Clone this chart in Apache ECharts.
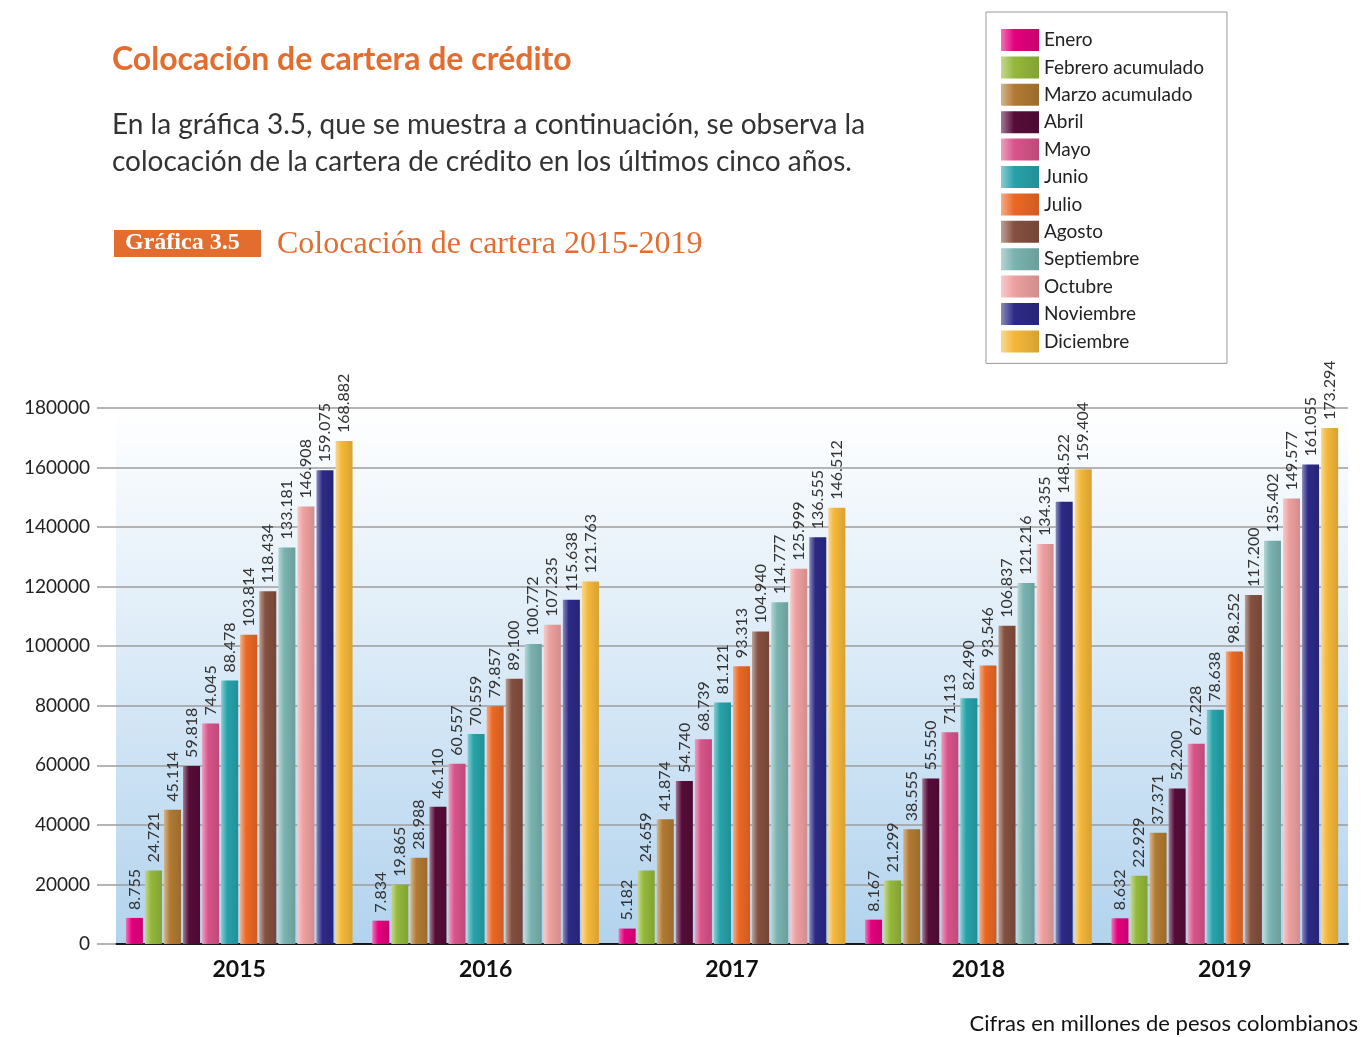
<!DOCTYPE html>
<html>
<head>
<meta charset="utf-8">
<script src="https://cdn.jsdelivr.net/npm/echarts@6/dist/echarts.min.js"></script>
<style>
html, body { margin: 0; padding: 0; background: #fff; }
#main { width: 1365px; height: 1037px; }
</style>
</head>
<body>
<div id="main"></div>
<script>
// datos de la gráfica 3.5
var years = ['2015', '2016', '2017', '2018', '2019'];
var months = ['Enero', 'Febrero acumulado', 'Marzo acumulado', 'Abril', 'Mayo', 'Junio',
	'Julio', 'Agosto', 'Septiembre', 'Octubre', 'Noviembre', 'Diciembre'];
var v2015 = [8755, 24721, 45114, 59818, 74045, 88478, 103814, 118434, 133181, 146908, 159075, 168882];
var v2016 = [7834, 19865, 28988, 46110, 60557, 70559, 79857, 89100, 100772, 107235, 115638, 121763];
var v2017 = [5182, 24659, 41874, 54740, 68739, 81121, 93313, 104940, 114777, 125999, 136555, 146512];
var v2018 = [8167, 21299, 38555, 55550, 71113, 82490, 93546, 106837, 121216, 134355, 148522, 159404];
var v2019 = [8632, 22929, 37371, 52200, 67228, 78638, 98252, 117200, 135402, 149577, 161055, 173294];
var yTicks = [0, 20000, 40000, 60000, 80000, 100000, 120000, 140000, 160000, 180000];

var baseColors = ['#e4007d', '#94b83a', '#b17a32', '#560c38', '#d8548a', '#27a2aa',
	'#eb6824', '#84503f', '#7ab3b0', '#eea0a0', '#2c2a86', '#f4b739'];

function mix(hex, target, t) {
	var r = parseInt(hex.substr(1, 2), 16), g = parseInt(hex.substr(3, 2), 16), b = parseInt(hex.substr(5, 2), 16);
	r = Math.round(r + (target - r) * t);
	g = Math.round(g + (target - g) * t);
	b = Math.round(b + (target - b) * t);
	return 'rgb(' + r + ',' + g + ',' + b + ')';
}
function barGradient(c) {
	return {
		type: 'linear', x: 0, y: 0, x2: 1, y2: 0,
		colorStops: [
			{ offset: 0, color: mix(c, 255, 0.45) },
			{ offset: 0.35, color: c },
			{ offset: 1, color: mix(c, 0, 0.12) }
		]
	};
}
function fmt(n) {
	return String(n).replace(/\B(?=(\d{3})+(?!\d))/g, '.');
}

var table = [v2015, v2016, v2017, v2018, v2019];
var series = [];
for (var m = 0; m < months.length; m++) {
	var d = [];
	for (var y = 0; y < years.length; y++) d.push(table[y][m]);
	series.push({
		name: months[m],
		type: 'bar',
		data: d,
		barCategoryGap: '8%',
		barGap: '12%',
		itemStyle: { color: barGradient(baseColors[m]) },
		label: {
			show: true,
			position: 'top',
			rotate: 90,
			align: 'left',
			verticalAlign: 'middle',
			distance: 8,
			color: '#333',
			fontFamily: 'Lato',
			fontSize: 16,
			formatter: function (p) { return fmt(p.value); }
		}
	});
}

var myChart = echarts.init(document.getElementById('main'));
var option = {
	animation: false,
	textStyle: { fontFamily: 'Lato' },
	grid: {
		left: 116, right: 17, top: 408, bottom: 93,
		show: true,
		borderWidth: 0,
		backgroundColor: {
			type: 'linear', x: 0, y: 0, x2: 0, y2: 1,
			colorStops: [
				{ offset: 0, color: '#ffffff' },
				{ offset: 1, color: '#b2d3ee' }
			]
		}
	},
	legend: {
		orient: 'vertical',
		left: 986,
		top: 12,
		padding: [17, 23, 11, 15],
		backgroundColor: '#fff',
		borderColor: '#9a9a9a',
		borderWidth: 1,
		icon: 'rect',
		itemWidth: 38,
		itemHeight: 22,
		itemGap: 5.4,
		textStyle: { fontFamily: 'Lato', fontSize: 19, color: '#222' },
		data: months
	},
	xAxis: {
		type: 'category',
		data: years,
		axisLine: { lineStyle: { color: '#1a1a1a', width: 2 } },
		axisTick: { show: false },
		axisLabel: { color: '#111', fontFamily: 'Lato', fontWeight: 'bold', fontSize: 23, margin: 14 }
	},
	yAxis: {
		type: 'value',
		min: yTicks[0],
		max: yTicks[yTicks.length - 1],
		interval: yTicks[1] - yTicks[0],
		axisLine: { show: false },
		axisTick: { show: true, length: 19, lineStyle: { color: '#9d9d9d', width: 1.5 } },
		splitLine: { lineStyle: { color: '#9d9d9d', width: 1.5 } },
		axisLabel: { color: '#222', fontFamily: 'Lato', fontSize: 19, margin: 26, formatter: function (v) { return String(v); } }
	},
	graphic: [
		{ type: 'text', left: 112, top: 44, style: { text: 'Colocación de cartera de crédito', fill: '#e36c2f', font: 'bold 32px Lato' } },
		{ type: 'text', left: 112, top: 111, style: { text: 'En la gráfica 3.5, que se muestra a continuación, se observa la', fill: '#333', font: '28px Lato' } },
		{ type: 'text', left: 112, top: 148, style: { text: 'colocación de la cartera de crédito en los últimos cinco años.', fill: '#333', font: '28px Lato' } },
		{ type: 'rect', left: 114, top: 230, shape: { width: 147, height: 27 }, style: { fill: '#e36c2f' } },
		{ type: 'text', left: 125, top: 231, style: { text: 'Gráfica 3.5', fill: '#fff', font: 'bold 24px "Liberation Serif"' } },
		{ type: 'text', left: 277, top: 229, style: { text: 'Colocación de cartera 2015-2019', fill: '#e36c2f', font: '32px "Liberation Serif"' } },
		{ type: 'text', right: 7, top: 1013, style: { text: 'Cifras en millones de pesos colombianos', fill: '#111', font: '22px Lato' } }
	],
	series: series
};
myChart.setOption(option);
</script>
</body>
</html>
